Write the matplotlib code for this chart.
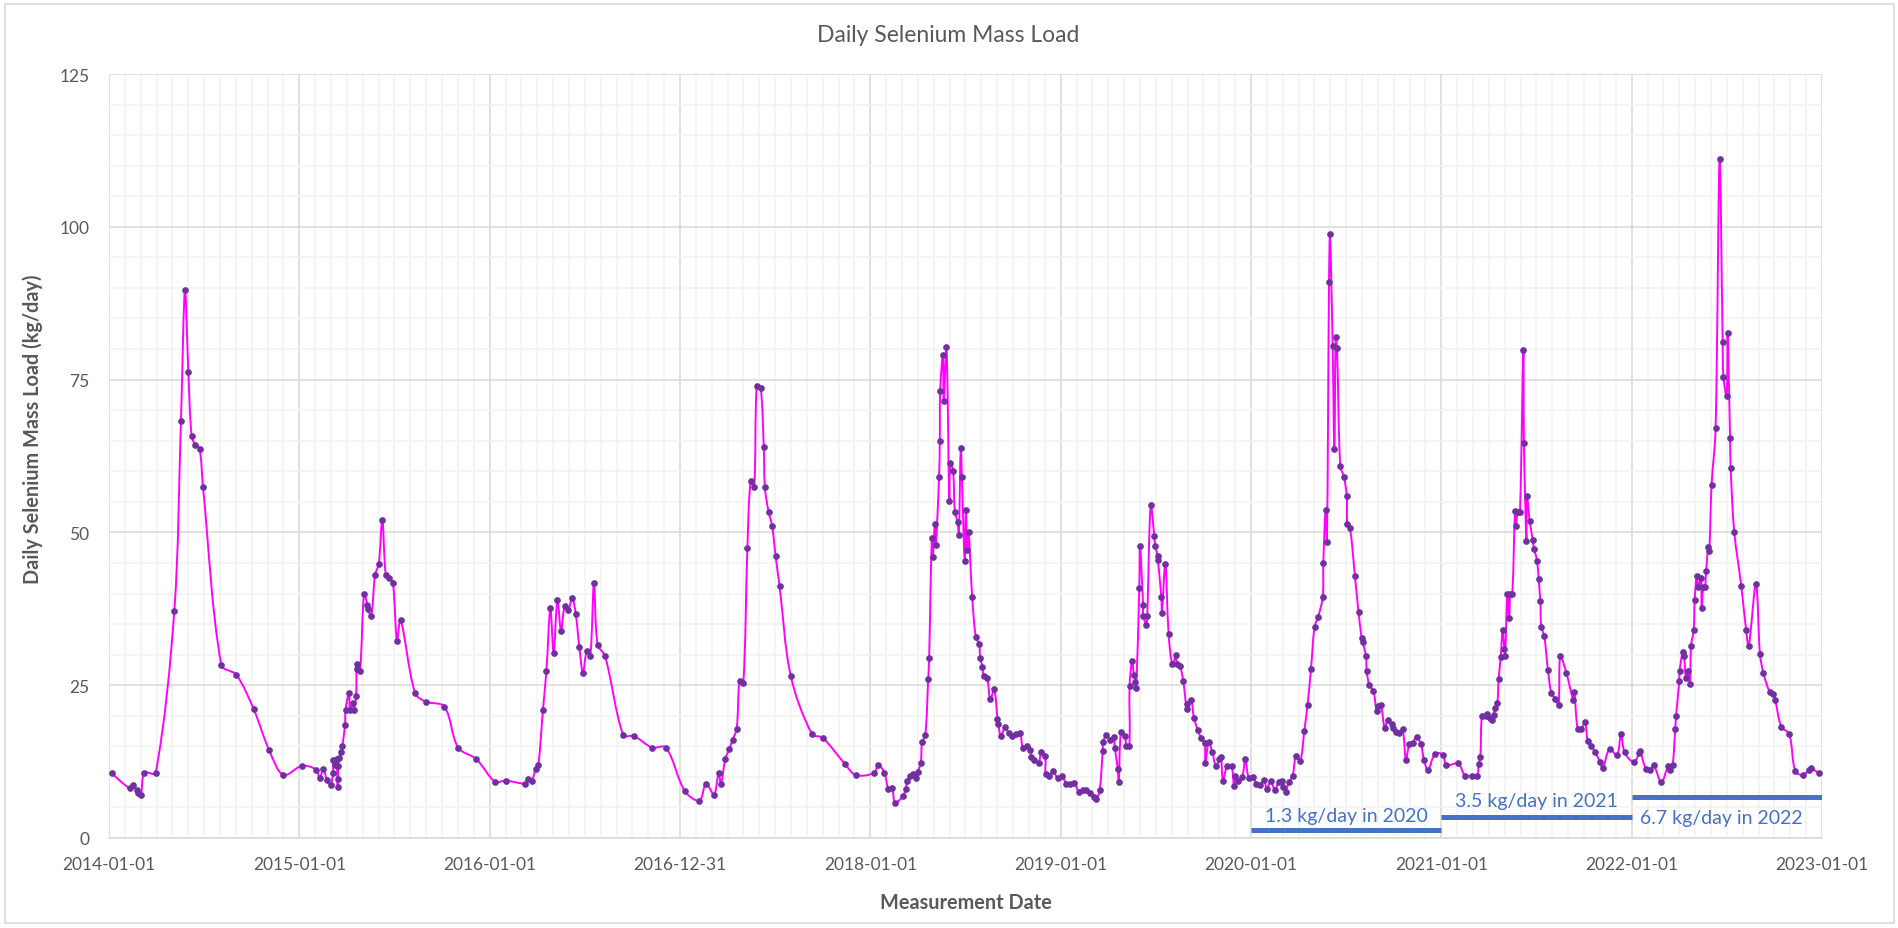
import datetime as dt
import numpy as np
import matplotlib
matplotlib.use("Agg")
import matplotlib.pyplot as plt
import matplotlib.dates as mdates
from matplotlib.path import Path
from matplotlib.patches import PathPatch, Rectangle
from matplotlib.ticker import FixedLocator, MultipleLocator

plt.rcParams['font.family'] = ['Lato', 'DejaVu Sans']

# sample times as decimal years, counted in axis-years from 2014-01-01
sample_year = [
    2014.014, 2014.110, 2014.128, 2014.145, 2014.154, 2014.168, 2014.186, 2014.245,
    2014.343, 2014.378, 2014.399, 2014.417, 2014.434, 2014.454, 2014.476, 2014.494,
    2014.590, 2014.669, 2014.760, 2014.841, 2014.916,
    2015.014, 2015.088, 2015.107, 2015.126, 2015.145, 2015.165, 2015.177, 2015.179,
    2015.189, 2015.196, 2015.201, 2015.203, 2015.205, 2015.210, 2015.219, 2015.226,
    2015.240, 2015.243, 2015.261, 2015.266, 2015.282, 2015.287, 2015.298, 2015.301,
    2015.305, 2015.319, 2015.340, 2015.357, 2015.359, 2015.378, 2015.398, 2015.417,
    2015.436, 2015.454, 2015.473, 2015.492, 2015.513, 2015.532, 2015.608, 2015.665,
    2015.762, 2015.834, 2015.930,
    2016.028, 2016.084, 2016.186, 2016.201, 2016.221, 2016.242, 2016.256, 2016.280,
    2016.298, 2016.319, 2016.336, 2016.356, 2016.375, 2016.394, 2016.413, 2016.434,
    2016.452, 2016.471, 2016.490, 2016.510, 2016.529, 2016.548, 2016.567, 2016.606,
    2016.702, 2016.757, 2016.853, 2016.926,
    2017.025, 2017.102, 2017.137, 2017.179, 2017.203, 2017.215, 2017.238, 2017.259,
    2017.277, 2017.298, 2017.313, 2017.333, 2017.354, 2017.371, 2017.390, 2017.403,
    2017.424, 2017.440, 2017.446, 2017.465, 2017.484, 2017.502, 2017.523, 2017.582,
    2017.693, 2017.749, 2017.867, 2017.923,
    2018.018, 2018.042, 2018.074, 2018.095, 2018.114, 2018.130, 2018.170, 2018.186,
    2018.193, 2018.209, 2018.225, 2018.242, 2018.249, 2018.265, 2018.272, 2018.289,
    2018.304, 2018.309, 2018.323, 2018.328, 2018.339, 2018.344, 2018.361, 2018.365,
    2018.367, 2018.381, 2018.386, 2018.400, 2018.415, 2018.420, 2018.435, 2018.444,
    2018.458, 2018.465, 2018.475, 2018.481, 2018.496, 2018.502, 2018.509, 2018.516,
    2018.535, 2018.554, 2018.572, 2018.577, 2018.589, 2018.595, 2018.614, 2018.630,
    2018.651, 2018.668, 2018.672, 2018.686, 2018.709, 2018.726, 2018.744, 2018.765,
    2018.786, 2018.802, 2018.823, 2018.840, 2018.846, 2018.858, 2018.884, 2018.898,
    2018.919, 2018.921, 2018.939, 2018.960, 2018.984,
    2019.007, 2019.030, 2019.051, 2019.072, 2019.095, 2019.117, 2019.135, 2019.156,
    2019.174, 2019.188, 2019.205, 2019.221, 2019.223, 2019.240, 2019.261, 2019.278,
    2019.284, 2019.300, 2019.305, 2019.317, 2019.338, 2019.345, 2019.361, 2019.362,
    2019.375, 2019.385, 2019.392, 2019.397, 2019.413, 2019.417, 2019.433, 2019.434,
    2019.450, 2019.455, 2019.473, 2019.492, 2019.497, 2019.510, 2019.511, 2019.529,
    2019.532, 2019.550, 2019.567, 2019.587, 2019.606, 2019.611, 2019.627, 2019.644,
    2019.662, 2019.665, 2019.685, 2019.700, 2019.720, 2019.739, 2019.757, 2019.760,
    2019.778, 2019.797, 2019.816, 2019.834, 2019.842, 2019.853, 2019.874, 2019.898,
    2019.911, 2019.918, 2019.933, 2019.954, 2019.970, 2019.988,
    2020.012, 2020.028, 2020.047, 2020.067, 2020.084, 2020.103, 2020.126, 2020.145,
    2020.163, 2020.170, 2020.182, 2020.198, 2020.219, 2020.236, 2020.259, 2020.280,
    2020.297, 2020.315, 2020.334, 2020.353, 2020.377, 2020.380, 2020.392, 2020.399,
    2020.410, 2020.415, 2020.429, 2020.438, 2020.445, 2020.452, 2020.469, 2020.489,
    2020.503, 2020.506, 2020.520, 2020.546, 2020.565, 2020.581, 2020.587, 2020.604,
    2020.608, 2020.622, 2020.643, 2020.660, 2020.669, 2020.683, 2020.702, 2020.718,
    2020.739, 2020.748, 2020.762, 2020.779, 2020.797, 2020.814, 2020.832, 2020.849,
    2020.870, 2020.893, 2020.909, 2020.930, 2020.967,
    2021.009, 2021.026, 2021.089, 2021.124, 2021.159, 2021.189, 2021.196, 2021.205,
    2021.214, 2021.236, 2021.242, 2021.256, 2021.264, 2021.275, 2021.280, 2021.294,
    2021.301, 2021.312, 2021.322, 2021.331, 2021.335, 2021.347, 2021.356, 2021.363,
    2021.373, 2021.387, 2021.392, 2021.401, 2021.413, 2021.431, 2021.434, 2021.447,
    2021.450, 2021.464, 2021.480, 2021.487, 2021.503, 2021.511, 2021.520, 2021.525,
    2021.541, 2021.560, 2021.578, 2021.598, 2021.616, 2021.625, 2021.657, 2021.694,
    2021.699, 2021.716, 2021.734, 2021.755, 2021.769, 2021.788, 2021.809, 2021.834,
    2021.848, 2021.884, 2021.923, 2021.944, 2021.963,
    2022.011, 2022.040, 2022.044, 2022.075, 2022.098, 2022.116, 2022.156, 2022.191,
    2022.201, 2022.215, 2022.229, 2022.233, 2022.250, 2022.252, 2022.268, 2022.275,
    2022.285, 2022.294, 2022.306, 2022.312, 2022.326, 2022.331, 2022.342, 2022.350,
    2022.364, 2022.368, 2022.376, 2022.385, 2022.391, 2022.403, 2022.408, 2022.420,
    2022.441, 2022.462, 2022.478, 2022.482, 2022.499, 2022.504, 2022.517, 2022.520,
    2022.539, 2022.576, 2022.601, 2022.615, 2022.653, 2022.674, 2022.692, 2022.725,
    2022.744, 2022.755, 2022.786, 2022.828, 2022.860, 2022.902, 2022.930, 2022.944,
    2022.982,
]

# daily selenium mass load, kg/day
se_load = [
    10.6, 8.1, 8.6, 7.8, 7.4, 7.1, 10.7, 10.6,
    37.1, 68.2, 89.7, 76.2, 65.8, 64.3, 63.7, 57.4,
    28.3, 26.7, 21.1, 14.4, 10.3,
    11.8, 11.2, 9.8, 11.3, 9.5, 8.7, 10.7, 12.7,
    11.9, 12.9, 8.4, 9.6, 11.8, 13.1, 14.1, 15.1,
    18.5, 21.0, 23.8, 20.9, 22.1, 20.9, 23.2, 28.4,
    27.6, 27.3, 39.9, 38.2, 37.4, 36.4, 43.1, 44.8,
    52.1, 43.1, 42.6, 41.7, 32.2, 35.7, 23.7, 22.3,
    21.5, 14.8, 12.9,
    9.2, 9.4, 8.9, 9.6, 9.4, 11.3, 12.0, 21.0,
    27.3, 37.6, 30.3, 39.0, 33.9, 38.0, 37.3, 39.3,
    36.7, 31.3, 27.0, 30.6, 29.8, 41.8, 31.6, 29.8,
    16.8, 16.7, 14.8, 14.8,
    7.7, 6.1, 8.9, 7.1, 10.7, 8.8, 12.9, 14.6,
    16.1, 17.9, 25.7, 25.3, 47.4, 58.4, 57.5, 73.9,
    73.6, 64.0, 57.4, 53.4, 51.1, 46.2, 41.2, 26.5,
    17.0, 16.4, 12.1, 10.3,
    10.6, 11.9, 10.7, 8.0, 8.2, 5.8, 6.8, 8.0,
    9.3, 10.1, 10.5, 9.8, 10.8, 12.3, 15.7, 16.8,
    26.0, 29.5, 49.1, 46.0, 51.3, 47.9, 59.0, 64.9,
    73.2, 79.0, 71.5, 80.4, 55.2, 61.3, 60.0, 53.4,
    51.7, 49.6, 63.8, 59.0, 45.3, 53.7, 47.2, 50.1,
    39.5, 32.9, 31.7, 29.5, 28.0, 26.5, 26.1, 22.7,
    24.3, 19.5, 18.6, 16.7, 18.2, 17.2, 16.7, 17.0,
    17.2, 14.7, 15.1, 14.4, 13.2, 12.7, 12.3, 14.0,
    13.4, 10.4, 10.1, 11.0, 9.8,
    10.1, 8.9, 8.9, 9.0, 7.6, 7.9, 7.8, 7.3,
    6.7, 6.4, 7.8, 14.3, 15.7, 16.8, 16.1, 16.6,
    14.8, 11.3, 9.1, 17.4, 16.7, 15.1, 15.1, 24.8,
    28.9, 26.7, 25.5, 24.5, 40.9, 47.8, 38.2, 36.4,
    34.9, 36.4, 54.5, 49.4, 47.7, 46.1, 45.5, 39.4,
    36.8, 44.9, 33.4, 28.4, 29.9, 28.5, 28.1, 25.7,
    21.1, 22.0, 22.6, 19.7, 17.7, 16.3, 15.5, 12.3,
    15.7, 14.0, 11.7, 12.9, 13.2, 9.4, 11.7, 11.7,
    8.5, 10.2, 9.4, 9.9, 13.0, 9.8,
    9.9, 8.8, 8.7, 9.5, 8.0, 9.3, 7.9, 9.2,
    9.3, 8.4, 7.6, 9.1, 10.2, 13.4, 12.6, 17.5,
    21.8, 27.6, 34.6, 36.2, 39.5, 45.0, 53.7, 48.4,
    91.0, 98.8, 80.5, 63.6, 81.9, 80.1, 60.9, 59.0,
    55.9, 51.3, 50.8, 42.9, 36.9, 32.8, 32.0, 29.8,
    27.3, 25.0, 24.1, 20.8, 21.6, 21.8, 18.0, 19.3,
    18.7, 18.0, 17.4, 17.2, 17.8, 12.8, 15.4, 15.6,
    16.6, 15.3, 12.8, 11.1, 13.8,
    13.6, 11.9, 12.2, 10.2, 10.2, 10.2, 12.1, 13.3,
    20.0, 20.0, 20.3, 19.7, 19.3, 20.2, 21.2, 22.1,
    26.0, 29.6, 34.1, 30.9, 29.7, 40.0, 36.0, 40.0,
    40.0, 53.5, 51.1, 53.3, 53.3, 79.9, 64.7, 48.6,
    55.9, 51.9, 48.8, 47.3, 45.4, 42.4, 38.8, 34.6,
    33.0, 27.5, 23.7, 22.8, 21.8, 29.8, 27.0, 22.5,
    23.9, 17.9, 17.8, 18.9, 15.9, 15.0, 14.0, 12.4,
    11.4, 14.6, 13.5, 17.0, 14.0,
    12.4, 13.9, 14.3, 11.3, 11.2, 11.9, 9.1, 11.7,
    11.2, 11.9, 17.8, 19.9, 25.7, 27.4, 30.4, 29.7,
    26.2, 27.4, 25.2, 31.4, 34.1, 38.9, 42.9, 41.0,
    42.6, 37.6, 41.0, 41.0, 43.7, 47.6, 47.0, 57.8,
    67.0, 111.1, 81.2, 75.5, 72.3, 82.7, 65.4, 60.5,
    50.1, 41.2, 34.1, 31.4, 41.6, 30.1, 27.0, 23.9,
    23.6, 22.5, 18.2, 17.0, 10.9, 10.3, 11.1, 11.4,
    10.6,
]

# annual average increase, drawn as a bar across each calendar year
summary_year = [2020, 2021, 2022]
summary_rate = [1.3, 3.5, 6.7]
summary_text = ["1.3 kg/day in 2020", "3.5 kg/day in 2021", "6.7 kg/day in 2022"]
summary_text_pos = [(2020.50, 3.6), (2021.50, 6.1), (2022.47, 3.4)]

gray = "#595959"
AXIS_YEAR = 365.3          # major unit of the date axis, in days
start = mdates.date2num(dt.datetime(2014, 1, 1))


def to_num(year):
    return start + (np.asarray(year, dtype=float) - 2014.0) * AXIS_YEAR


def smooth_path(x, y, sx, sy):
    # cubic segments through every point; handle length scales with the
    # on-screen segment length so short hops don't overshoot
    n = len(x)
    px, py = x * sx, y * sy
    seg = np.hypot(np.diff(px), np.diff(py))
    verts = [(x[0], y[0])]
    codes = [Path.MOVETO]
    for i in range(n - 1):
        a = max(i - 1, 0)
        d = min(i + 2, n - 1)
        l0 = seg[i - 1] if i > 0 else seg[i]
        l1 = seg[i]
        l2 = seg[i + 1] if i + 2 < n else seg[i]
        f1 = l1 / (l0 + l1) / 3.0 if l0 + l1 > 0 else 0.0
        f2 = l1 / (l1 + l2) / 3.0 if l1 + l2 > 0 else 0.0
        c1 = (x[i] + (x[i + 1] - x[a]) * f1, y[i] + (y[i + 1] - y[a]) * f1)
        c2 = (x[i + 1] - (x[d] - x[i]) * f2, y[i + 1] - (y[d] - y[i]) * f2)
        verts += [c1, c2, (x[i + 1], y[i + 1])]
        codes += [Path.CURVE4] * 3
    return Path(verts, codes)


W, H = 1898, 929
fig = plt.figure(figsize=(W / 100, H / 100), dpi=100)
ax = fig.add_axes([109 / W, 1 - 839 / H, (1822 - 109) / W, (839 - 75) / H])

xs = to_num(sample_year)
ys = np.asarray(se_load)

span = 9 * AXIS_YEAR
ax.add_patch(PathPatch(smooth_path(xs, ys, 1713 / span, 764 / 125), fill=False,
                       edgecolor="#FF00FF", lw=1.4, zorder=3))
ax.plot(xs, ys, linestyle="none", marker="o", markersize=3.8,
        color="#7030A0", zorder=4)

for yr, rate, txt, (tx, ty) in zip(summary_year, summary_rate, summary_text,
                                   summary_text_pos):
    ax.plot(to_num([yr, yr + 1]), [rate, rate], color="#4472C4", lw=3.6,
            solid_capstyle="butt", zorder=5)
    ax.text(to_num(tx), ty, txt, color="#4472C4", fontsize=14,
            ha="center", va="center", zorder=6)

major = start + np.arange(10) * AXIS_YEAR
minor = start + np.arange(9 * 12 + 1) * AXIS_YEAR / 12
ax.set_xlim(start, start + span)
ax.set_ylim(0, 125)
ax.xaxis.set_major_locator(FixedLocator(major))
ax.xaxis.set_minor_locator(FixedLocator(minor))
ax.set_xticklabels([mdates.num2date(np.floor(v)).strftime("%Y-%m-%d") for v in major])
ax.yaxis.set_major_locator(MultipleLocator(25))
ax.yaxis.set_minor_locator(MultipleLocator(5))

ax.grid(which="major", color="#D9D9D9", lw=1.1)
ax.grid(which="minor", color="#F2F2F2", lw=1.1)
ax.set_axisbelow(True)
for side in ["top", "right", "left"]:
    ax.spines[side].set_visible(False)
ax.spines["bottom"].set_color("#D9D9D9")
ax.spines["bottom"].set_linewidth(1.1)
ax.tick_params(which="both", length=0, colors=gray, labelsize=12.5)
ax.tick_params(axis="x", pad=13)
ax.tick_params(axis="y", pad=14)

fig.text(948 / W, 1 - 36 / H, "Daily Selenium Mass Load", color=gray,
         fontsize=16.5, ha="center", va="center")
fig.text(33 / W, 1 - 429 / H, "Daily Selenium Mass Load (kg/day)", color=gray,
         fontsize=14.3, fontweight="bold", rotation=90, ha="center", va="center")
fig.text(966 / W, 1 - 903 / H, "Measurement Date", color=gray,
         fontsize=14.3, fontweight="bold", ha="center", va="center")

fig.add_artist(Rectangle((5 / W, 5 / H), 1889 / W, 919 / H, transform=fig.transFigure,
                         fill=False, edgecolor="#D9D9D9", lw=1.2))

fig.savefig("out.png", dpi=100, facecolor="white")
